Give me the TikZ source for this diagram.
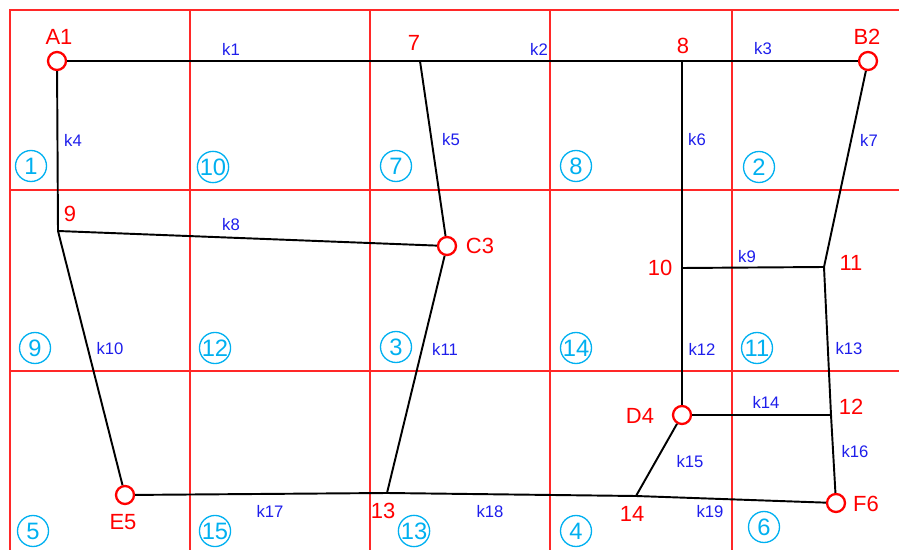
\documentclass[tikz,border=0pt]{standalone}
\usepackage{fontspec}
\setmainfont{Liberation Sans}
\usepackage{xcolor}
\usepackage{tikz}
\usetikzlibrary{positioning,calc}

\definecolor{gridred}{RGB}{255,40,40}
\definecolor{ptred}{RGB}{255,0,0}
\definecolor{kblue}{RGB}{30,30,235}
\definecolor{cellcyan}{RGB}{0,176,240}

\begin{document}
\begin{tikzpicture}[x=0.02cm, y=-0.02cm,
    gridline/.style={gridred, line width=0.7pt},
    pipe/.style={black, line width=1.1pt},
    station/.style={circle, draw=ptred, fill=white, line width=1.3pt,
                    inner sep=0pt, minimum size=0.36cm},
    ptlabel/.style={text=ptred, font=\fontsize{12.5}{14}\selectfont, inner sep=0pt},
    klabel/.style={text=kblue, font=\fontsize{9.5}{11}\selectfont, inner sep=0pt},
    cell/.style={circle, draw=cellcyan, text=cellcyan, line width=0.75pt,
                 inner sep=0pt, minimum size=0.62cm,
                 font=\fontsize{13.5}{15}\selectfont}]
  \useasboundingbox (0,0) rectangle (899,550);

  % grid of cells
  \draw[gridline] (10,550) -- (10,10) -- (899,10);
  \foreach \gx in {190,370,550,732}
    \draw[gridline] (\gx,10) -- (\gx,550);
  \foreach \gy in {190,371}
    \draw[gridline] (10,\gy) -- (899,\gy);

  % cell numbers
  \foreach \n/\cx/\cy in {1/31/166, 10/213/167, 7/396/166, 8/576/166, 2/759/167,
                          9/35/348, 12/215/348, 3/396/347, 14/576/348, 11/757/348,
                          5/33/531, 15/215/531, 13/414/531, 4/576/531, 6/764/527}
    \node[cell] (cell\n) at (\cx,\cy) {\n};

  % stations and junctions
  \node[station] (A1) at (57,61) {};
  \node[station] (B2) at (868,61) {};
  \node[station] (C3) at (447,246) {};
  \node[station] (D4) at (682,415) {};
  \node[station] (E5) at (125,495) {};
  \node[station] (F6) at (836,503) {};
  \coordinate (j7) at (420,61);
  \coordinate (j8) at (682,61);
  \coordinate (j9) at (58,231);
  \coordinate (j10) at (682,268);
  \coordinate (j11) at (824,267);
  \coordinate (j12) at (831,415);
  \coordinate (j13) at (387,493);
  \coordinate (j14) at (636,496);

  % pipes
  \draw[pipe] (A1) -- (j7);
  \draw[pipe] (j7) -- (j8);
  \draw[pipe] (j8) -- (B2);
  \draw[pipe] (A1) -- (j9);
  \draw[pipe] (j7) -- (C3);
  \draw[pipe] (j8) -- (j10);
  \draw[pipe] (B2) -- (j11);
  \draw[pipe] (j9) -- (C3);
  \draw[pipe] (j10) -- (j11);
  \draw[pipe] (j9) -- (E5);
  \draw[pipe] (C3) -- (j13);
  \draw[pipe] (j10) -- (D4);
  \draw[pipe] (j11) -- (j12);
  \draw[pipe] (D4) -- (j12);
  \draw[pipe] (D4) -- (j14);
  \draw[pipe] (j12) -- (F6);
  \draw[pipe] (E5) -- (j13);
  \draw[pipe] (j13) -- (j14);
  \draw[pipe] (j14) -- (F6);

  % point labels
  \node[ptlabel] (lA1) at (59,37) {A1};
  \node[ptlabel] (l7) at (414,43) {7};
  \node[ptlabel] (l8) at (683,46) {8};
  \node[ptlabel] (lB2) at (867,37) {B2};
  \node[ptlabel] (l9) at (70,214) {9};
  \node[ptlabel] (lC3) at (480,246) {C3};
  \node[ptlabel] (l10) at (660,268) {10};
  \node[ptlabel] (l11) at (851,263) {11};
  \node[ptlabel] (lD4) at (640,416) {D4};
  \node[ptlabel] (l12) at (851,407) {12};
  \node[ptlabel] (lE5) at (123,522) {E5};
  \node[ptlabel] (l13) at (383,511) {13};
  \node[ptlabel] (l14) at (632,514) {14};
  \node[ptlabel] (lF6) at (866,504) {F6};

  % pipe labels
  \foreach \k/\kx/\ky in {1/231/49, 2/539/49, 3/763/49, 4/73/140, 5/451/140,
                          6/697/140, 7/869/140, 8/231/225, 9/747/257, 10/110/349,
                          11/445/349, 12/702/349, 13/849/349, 14/766/402, 15/690/462,
                          16/855/452, 17/270/511, 18/490/512, 19/710/512}
    \node[klabel] (k\k) at (\kx,\ky) {k\k};
\end{tikzpicture}
\end{document}
